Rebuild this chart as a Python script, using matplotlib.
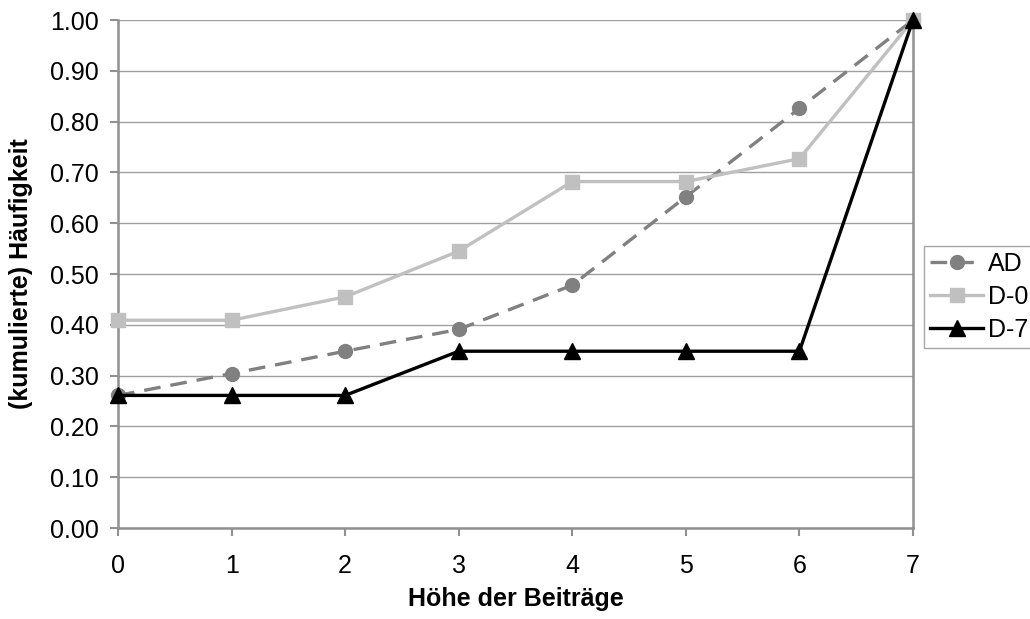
import matplotlib
matplotlib.use("Agg")
import matplotlib.pyplot as plt

plt.rcParams['font.family'] = ['Liberation Sans', 'DejaVu Sans']

# data
beitraege = [0, 1, 2, 3, 4, 5, 6, 7]
ad = [0.261, 0.304, 0.348, 0.391, 0.478, 0.652, 0.826, 1.00]
d0 = [0.409, 0.409, 0.455, 0.545, 0.682, 0.682, 0.727, 1.00]
d7 = [0.261, 0.261, 0.261, 0.348, 0.348, 0.348, 0.348, 1.00]
y_ticks = [i / 10 for i in range(11)]

fig = plt.figure(figsize=(10.3, 6.19), dpi=100)
ax = fig.add_axes([118 / 1030, 1 - 528 / 619, (913 - 118) / 1030, (528 - 20) / 619])

ax.plot(beitraege, ad, color='#808080', lw=2.4, ls=(0, (5, 3)), marker='o',
        ms=10, label='AD', clip_on=False, zorder=3)
ax.plot(beitraege, d0, color='#c0c0c0', lw=2.4, marker='s', ms=10,
        label='D-0', clip_on=False, zorder=3)
ax.plot(beitraege, d7, color='black', lw=2.4, marker='^', ms=11,
        label='D-7', clip_on=False, zorder=4)

ax.set_xlim(0, 7)
ax.set_ylim(0, 1)
ax.set_xticks(beitraege)
ax.set_yticks(y_ticks)
ax.set_yticklabels([f"{v:.2f}" for v in y_ticks])
ax.yaxis.grid(True, color='#a0a0a0', lw=1)
ax.set_axisbelow(True)

for side in ['left', 'bottom', 'right']:
    ax.spines[side].set_color('#909090')
    ax.spines[side].set_linewidth(1.8)
ax.spines['top'].set_visible(False)
ax.tick_params(direction='out', length=6, width=1.5, color='#909090',
               labelsize=18)
ax.tick_params(axis='x', pad=13)
ax.tick_params(axis='y', pad=8)

ax.set_xlabel('Höhe der Beiträge', fontsize=18, fontweight='bold', labelpad=6)
ax.set_ylabel('(kumulierte) Häufigkeit', fontsize=18, fontweight='bold', labelpad=12)

leg = fig.legend(loc='upper left', bbox_to_anchor=(924 / 1030, 1 - 246 / 619),
                 fontsize=18, frameon=True, fancybox=False, handlelength=2.1,
                 borderpad=0.25, labelspacing=0.35, handletextpad=0.2,
                 borderaxespad=0)
leg.get_frame().set_edgecolor('#909090')
leg.get_frame().set_linewidth(1)

fig.savefig('out.png', dpi=100)
